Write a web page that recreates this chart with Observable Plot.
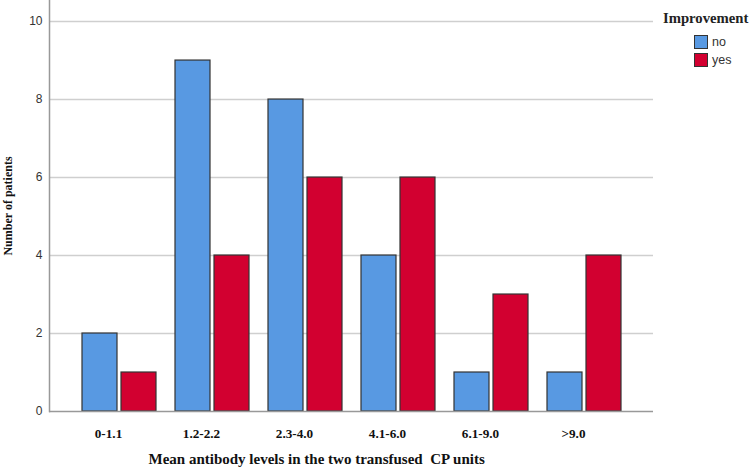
<!DOCTYPE html>
<html>
<head>
<meta charset="utf-8">
<script src="https://cdn.jsdelivr.net/npm/d3@7"></script>
<script src="https://cdn.jsdelivr.net/npm/@observablehq/plot@0.6"></script>
<style>
  html, body { margin: 0; padding: 0; background: #fff; }
  #wrap { position: relative; width: 750px; height: 469px; }
  #legend { position: absolute; left: 663px; top: 10px; font-family: "Liberation Serif", "Times New Roman", serif; }
  #legend .title { font-weight: bold; font-size: 14.7px; color: #222; line-height: 16px; margin-bottom: 7px; }
  #legend .item { display: flex; align-items: center; margin-left: 31px; height: 18px; font-family: "Liberation Sans", Arial, sans-serif; font-size: 12.5px; color: #333; }
  #legend .sw { width: 12px; height: 12px; border: 1px solid #333; margin-right: 4px; box-sizing: content-box; }
</style>
</head>
<body>
<div id="wrap"></div>
<script>
const categories = ["0-1.1", "1.2-2.2", "2.3-4.0", "4.1-6.0", "6.1-9.0", ">9.0"];
const noValues = [2, 9, 8, 4, 1, 1];
const yesValues = [1, 4, 6, 6, 3, 4];
const seriesNames = ["no", "yes"];
const seriesColors = ["#5899E2", "#D20030"];
const yTicks = [0, 2, 4, 6, 8, 10];

const noData = categories.map((c, i) => ({category: c, value: noValues[i]}));
const yesData = categories.map((c, i) => ({category: c, value: yesValues[i]}));

const serif = "'Liberation Serif', 'Times New Roman', serif";
const sans = "'Liberation Sans', Arial, sans-serif";

const chart = Plot.plot({
  width: 750,
  height: 469,
  marginLeft: 49,
  marginRight: 97,
  marginTop: 0,
  marginBottom: 58,
  style: {background: "white", fontFamily: sans},
  x: {domain: categories, paddingInner: 0.208, paddingOuter: 0.337, axis: null},
  y: {domain: [0, 10.54], axis: null},
  marks: [
    Plot.gridY(yTicks.slice(1), {stroke: "#cfcfcf", strokeOpacity: 1, strokeWidth: 1.5}),
    Plot.barY(noData, {x: "category", y: "value", fill: seriesColors[0], stroke: "#333", strokeWidth: 1.2, insetRight: 39}),
    Plot.barY(yesData, {x: "category", y: "value", fill: seriesColors[1], stroke: "#333", strokeWidth: 1.2, insetLeft: 39}),
    Plot.ruleY([0], {stroke: "#999", strokeWidth: 1.5}),
    Plot.frame({anchor: "left", stroke: "#999", strokeWidth: 1.5}),
    Plot.axisY(yTicks, {tickSize: 0, tickPadding: 7, label: null, fontSize: 12, fill: "#333", fontFamily: sans}),
    Plot.axisX({tickSize: 0, tickPadding: 17, dx: -11, label: null, fontSize: 13.2, fontWeight: "bold", fill: "#111", fontFamily: serif}),
    Plot.text(["Number of patients"], {frameAnchor: "left", textAnchor: "middle", dx: -41, dy: 0, rotate: -90, fontSize: 12, fontWeight: "bold", fontFamily: serif, fill: "#111"}),
    Plot.text(["Mean antibody levels in the two transfused  CP units"], {frameAnchor: "bottom-left", dx: 99, dy: 52, textAnchor: "start", fontSize: 15, fontWeight: "bold", fontFamily: serif, fill: "#111"})
  ]
});

const wrap = document.getElementById("wrap");
wrap.appendChild(chart);

const legend = document.createElement("div");
legend.id = "legend";
legend.innerHTML = `<div class="title">Improvement</div>` +
  seriesNames.map((n, i) => `<div class="item"><div class="sw" style="background:${seriesColors[i]}"></div>${n}</div>`).join("");
wrap.appendChild(legend);
</script>
</body>
</html>
